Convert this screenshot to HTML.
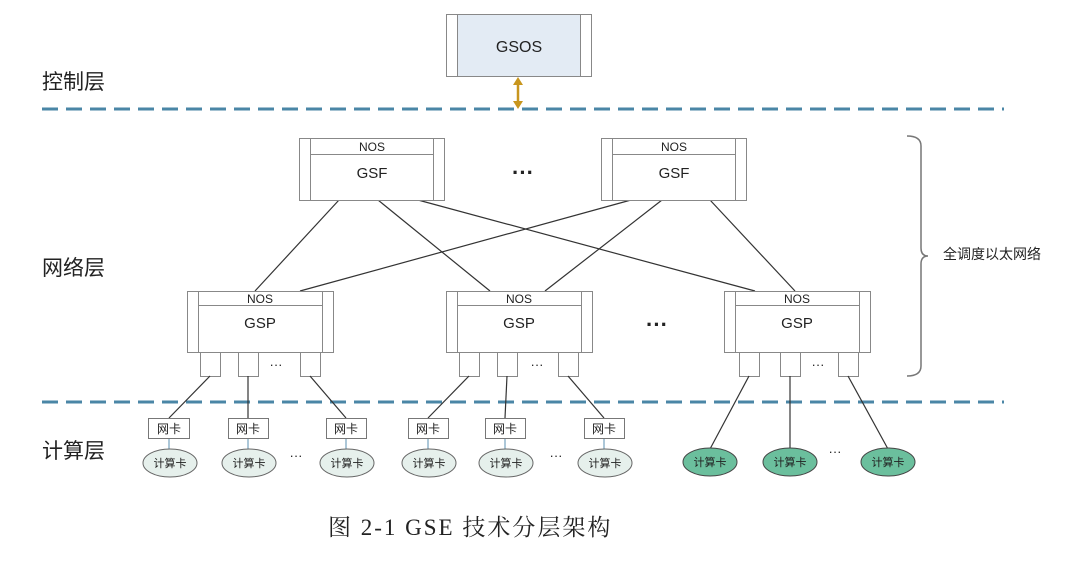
<!DOCTYPE html>
<html><head><meta charset="utf-8"><style>
html,body{margin:0;padding:0;background:#fff;}
svg{display:block;}
text{font-family:"Liberation Sans","Noto Sans CJK SC",sans-serif;fill:#222;}
</style></head><body>
<svg width="1080" height="569" viewBox="0 0 1080 569" xmlns="http://www.w3.org/2000/svg">
<g stroke="#4a86a6" stroke-width="3" stroke-dasharray="16 8">
<line x1="42" y1="109" x2="1004" y2="109"/>
<line x1="42" y1="402" x2="1004" y2="402"/>
</g>
<text x="42" y="89" font-size="21">控制层</text>
<text x="42" y="275" font-size="21">网络层</text>
<text x="42" y="458" font-size="21">计算层</text>
<!-- GSOS -->
<rect x="446.5" y="14.5" width="145" height="62" fill="#e3ebf4" stroke="#888"/>
<rect x="446.5" y="14.5" width="11" height="62" fill="#fff" stroke="#888"/>
<rect x="580.5" y="14.5" width="11" height="62" fill="#fff" stroke="#888"/>
<text x="519" y="52" font-size="16" text-anchor="middle">GSOS</text>
<line x1="518" y1="82" x2="518" y2="104" stroke="#c8961e" stroke-width="2.5"/>
<polygon points="518,77 513,85 523,85" fill="#c8961e"/>
<polygon points="518,109 513,101 523,101" fill="#c8961e"/>
<!-- lines GSF to GSP -->
<g stroke="#333" stroke-width="1.2">
<line x1="339" y1="200" x2="255" y2="291"/>
<line x1="378" y1="200" x2="490" y2="291"/>
<line x1="418" y1="200" x2="755" y2="291"/>
<line x1="631" y1="200" x2="300" y2="291"/>
<line x1="662" y1="200" x2="545" y2="291"/>
<line x1="710" y1="200" x2="795" y2="291"/>
</g>
<!-- GSF boxes -->
<g fill="#fff" stroke="#888">
<rect x="299.5" y="138.5" width="145" height="62"/>
<line x1="310.5" y1="138" x2="310.5" y2="200"/><line x1="433.5" y1="138" x2="433.5" y2="200"/>
<line x1="310" y1="154.5" x2="433" y2="154.5"/>
<rect x="601.5" y="138.5" width="145" height="62"/>
<line x1="612.5" y1="138" x2="612.5" y2="200"/><line x1="735.5" y1="138" x2="735.5" y2="200"/>
<line x1="612" y1="154.5" x2="735" y2="154.5"/>
</g>
<text x="372" y="151" font-size="12" text-anchor="middle">NOS</text>
<text x="372" y="178" font-size="15" text-anchor="middle">GSF</text>
<text x="674" y="151" font-size="12" text-anchor="middle">NOS</text>
<text x="674" y="178" font-size="15" text-anchor="middle">GSF</text>
<text x="523" y="180" font-size="22" font-weight="bold" text-anchor="middle">···</text>
<text x="657" y="332" font-size="22" font-weight="bold" text-anchor="middle">···</text>
<!-- GSP boxes -->
<g fill="#fff" stroke="#888">
<rect x="187.5" y="291.5" width="146" height="61"/>
<line x1="198.5" y1="291" x2="198.5" y2="352"/><line x1="322.5" y1="291" x2="322.5" y2="352"/>
<line x1="198" y1="305.5" x2="322" y2="305.5"/>
<rect x="200.5" y="352.5" width="20" height="24"/><rect x="238.5" y="352.5" width="20" height="24"/><rect x="300.5" y="352.5" width="20" height="24"/>
<rect x="446.5" y="291.5" width="146" height="61"/>
<line x1="457.5" y1="291" x2="457.5" y2="352"/><line x1="581.5" y1="291" x2="581.5" y2="352"/>
<line x1="457" y1="305.5" x2="581" y2="305.5"/>
<rect x="459.5" y="352.5" width="20" height="24"/><rect x="497.5" y="352.5" width="20" height="24"/><rect x="558.5" y="352.5" width="20" height="24"/>
<rect x="724.5" y="291.5" width="146" height="61"/>
<line x1="735.5" y1="291" x2="735.5" y2="352"/><line x1="859.5" y1="291" x2="859.5" y2="352"/>
<line x1="735" y1="305.5" x2="859" y2="305.5"/>
<rect x="739.5" y="352.5" width="20" height="24"/><rect x="780.5" y="352.5" width="20" height="24"/><rect x="838.5" y="352.5" width="20" height="24"/>
</g>
<g font-size="12" text-anchor="middle">
<text x="260" y="303">NOS</text><text x="519" y="303">NOS</text><text x="797" y="303">NOS</text>
</g>
<g font-size="15" text-anchor="middle">
<text x="260" y="328">GSP</text><text x="519" y="328">GSP</text><text x="797" y="328">GSP</text>
</g>
<g font-size="13" text-anchor="middle">
<text x="276" y="369">···</text><text x="537" y="369">···</text><text x="818" y="369">···</text>
<text x="296" y="460">···</text><text x="556" y="460">···</text><text x="835" y="456">···</text>
</g>
<!-- port to NIC lines -->
<g stroke="#333" stroke-width="1.2">
<line x1="210" y1="376" x2="169" y2="418"/><line x1="248" y1="376" x2="248" y2="418"/><line x1="310" y1="376" x2="346" y2="418"/>
<line x1="469" y1="376" x2="428" y2="418"/><line x1="507" y1="376" x2="505" y2="418"/><line x1="568" y1="376" x2="604" y2="418"/>
<line x1="749" y1="376" x2="710" y2="449"/><line x1="790" y1="376" x2="790" y2="449"/><line x1="848" y1="376" x2="888" y2="449"/>
</g>
<g stroke="#5a8fb0" stroke-width="1">
<line x1="169" y1="438" x2="169" y2="449"/><line x1="248" y1="438" x2="248" y2="449"/><line x1="346" y1="438" x2="346" y2="449"/>
<line x1="428" y1="438" x2="428" y2="449"/><line x1="505" y1="438" x2="505" y2="449"/><line x1="604" y1="438" x2="604" y2="449"/>
</g>
<g fill="#fff" stroke="#777">
<rect x="148.5" y="418.5" width="41" height="20"/><rect x="228.5" y="418.5" width="40" height="20"/><rect x="326.5" y="418.5" width="40" height="20"/>
<rect x="408.5" y="418.5" width="40" height="20"/><rect x="485.5" y="418.5" width="40" height="20"/><rect x="584.5" y="418.5" width="40" height="20"/>
</g>
<g font-size="12" text-anchor="middle">
<text x="169" y="433">网卡</text><text x="248" y="433">网卡</text><text x="346" y="433">网卡</text>
<text x="428" y="433">网卡</text><text x="505" y="433">网卡</text><text x="604" y="433">网卡</text>
</g>
<g fill="#e6f0ec" stroke="#666">
<ellipse cx="170" cy="463" rx="27" ry="14"/><ellipse cx="249" cy="463" rx="27" ry="14"/><ellipse cx="347" cy="463" rx="27" ry="14"/>
<ellipse cx="429" cy="463" rx="27" ry="14"/><ellipse cx="506" cy="463" rx="27" ry="14"/><ellipse cx="605" cy="463" rx="27" ry="14"/>
</g>
<g fill="#6bbf9d" stroke="#444">
<ellipse cx="710" cy="462" rx="27" ry="14"/><ellipse cx="790" cy="462" rx="27" ry="14"/><ellipse cx="888" cy="462" rx="27" ry="14"/>
</g>
<g font-size="11" text-anchor="middle">
<text x="170" y="467">计算卡</text><text x="249" y="467">计算卡</text><text x="347" y="467">计算卡</text>
<text x="429" y="467">计算卡</text><text x="506" y="467">计算卡</text><text x="605" y="467">计算卡</text>
<text x="710" y="466">计算卡</text><text x="790" y="466">计算卡</text><text x="888" y="466">计算卡</text>
</g>
<!-- brace -->
<path d="M907,136 Q921,136 921,146 L921,248 Q921,256 928,256 Q921,256 921,264 L921,366 Q921,376 907,376" fill="none" stroke="#777" stroke-width="1.5"/>
<text x="943" y="259" font-size="14">全调度以太网络</text>
<text x="328" y="535" font-size="23" letter-spacing="2" style='font-family:"Liberation Serif","Noto Serif CJK SC",serif'>图 2-1 GSE 技术分层架构</text>
</svg>
</body></html>
